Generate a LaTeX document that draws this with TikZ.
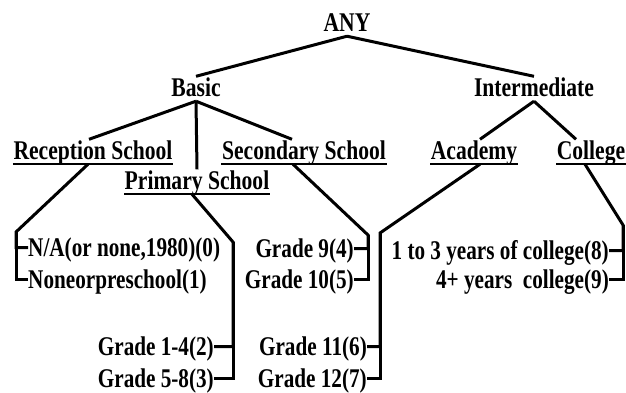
\documentclass[tikz,border=0pt]{standalone}
\usepackage{fontspec}
\setmainfont{Liberation Serif}[FakeStretch=0.8]
\newfontfamily\leaffont{Liberation Serif}[FakeStretch=0.785]
\begin{document}
\begin{tikzpicture}[x=1pt,y=-1pt]
\tikzstyle{level}=[font=\fontsize{27}{30}\selectfont\bfseries,inner sep=0.5pt,text height=19pt,text depth=4.5pt,anchor=base]
\tikzstyle{school}=[level]
\tikzstyle{leaf}=[font=\leaffont\fontsize{27}{30}\selectfont\bfseries,inner sep=0pt,text height=17pt,text depth=0pt]
\tikzstyle{edge}=[line width=3pt]
\tikzstyle{uline}=[line width=2pt]
\useasboundingbox (0,0) rectangle (626,392);
% levels
\node[level] (any) at (347,31) {ANY};
\node[level] (basic) at (196,96) {Basic};
\node[level] (inter) at (534,96) {Intermediate};
\node[school] (rec) at (93,159) {Reception School};
\node[school] (sec) at (304,159) {Secondary School};
\node[school] (pri) at (197,189) {Primary School};
\node[school] (aca) at (474,159) {Academy};
\node[school] (col) at (591,159) {College};
\draw[uline] (rec.south west) -- (rec.south east);
\draw[uline] (sec.south west) -- (sec.south east);
\draw[uline] (pri.south west) -- (pri.south east);
\draw[uline] (aca.south west) -- (aca.south east);
\draw[uline] (col.south west) -- (col.south east);
% leaves
\node[leaf,anchor=base west] (na) at (28,256) {N/A(or none,1980)(0)};
\node[leaf,anchor=base west] (none) at (28,288) {Noneorpreschool(1)};
\node[leaf,anchor=base east] (g1) at (214,355) {Grade 1-4(2)};
\node[leaf,anchor=base east] (g5) at (214,387) {Grade 5-8(3)};
\node[leaf,anchor=base east] (g9) at (354,257) {Grade 9(4)};
\node[leaf,anchor=base east] (g10) at (354,288) {Grade 10(5)};
\node[leaf,anchor=base east] (g11) at (367,355) {Grade 11(6)};
\node[leaf,anchor=base east] (g12) at (367,387) {Grade 12(7)};
\node[leaf,anchor=base east] (c8) at (609,259) {1 to 3 years of college(8)};
\node[leaf,anchor=base east] (c9) at (609,288) {4+ years\ \ college(9)};
% bends
\coordinate (recb) at (16,232);
\coordinate (prib) at (233,242);
\coordinate (secb) at (368,235);
\coordinate (acab) at (380,233);
\coordinate (colb) at (623,225);
% edges
\draw[edge] (any.south) -- (basic.north);
\draw[edge] (any.south) -- (inter.north);
\draw[edge] (basic.south) -- ([xshift=-4pt]rec.north);
\draw[edge] (basic.south) -- (pri.north);
\draw[edge] (basic.south) -- ([xshift=-12pt]sec.north);
\draw[edge] (inter.south) -- ([xshift=6pt]aca.north);
\draw[edge] (inter.south) -- ([xshift=-15pt]col.north);
\draw[edge] ([xshift=-5pt]rec.south) -- (recb) |- (na.west);
\draw[edge] (recb) |- (none.west);
\draw[edge] ([xshift=-5pt]pri.south) -- (prib) |- (g1.east);
\draw[edge] (prib) |- (g5.east);
\draw[edge] ([xshift=-11pt]sec.south) -- (secb) |- (g9.east);
\draw[edge] (secb) |- (g10.east);
\draw[edge] ([xshift=6pt]aca.south) -- (acab) |- (g11.east);
\draw[edge] (acab) |- (g12.east);
\draw[edge] ([xshift=-6pt]col.south) -- (colb) |- (c8.east);
\draw[edge] (colb) |- (c9.east);
\end{tikzpicture}
\end{document}
